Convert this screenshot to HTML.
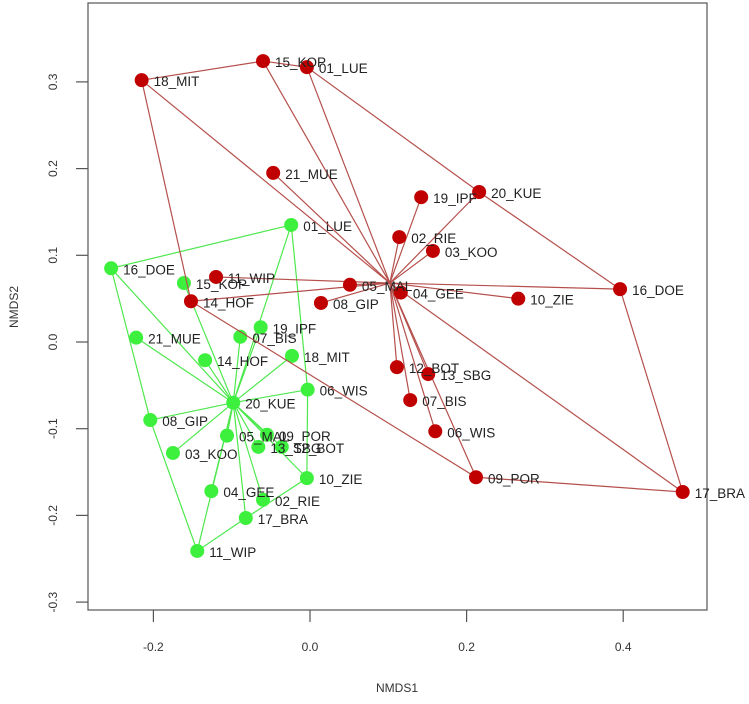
<!DOCTYPE html>
<html><head><meta charset="utf-8"><style>
html,body{margin:0;padding:0;background:#fff;}
svg{display:block;font-family:"Liberation Sans",sans-serif;}
</style></head><body>
<svg id="chart" width="749" height="704" xmlns="http://www.w3.org/2000/svg">
<rect x="88" y="3" width="619" height="607" fill="none" stroke="#555" stroke-width="1.2"/>
<text x="397" y="692" font-size="12" fill="#333" text-anchor="middle">NMDS1</text>
<text transform="translate(18,307) rotate(-90)" font-size="12" fill="#333" text-anchor="middle">NMDS2</text>
<g id="axes"></g>
<g id="green"></g>
<g id="red"></g>
</svg>
<script>
const xTicks=[-0.2,0.0,0.2,0.4];
const xTickLabels=["-0.2","0.0","0.2","0.4"];
const yTicks=[0.3,0.2,0.1,0.0,-0.1,-0.2,-0.3];
const yTickLabels=["0.3","0.2","0.1","0.0","-0.1","-0.2","-0.3"];

const greenNames=["01_LUE","16_DOE","15_KOP","21_MUE","07_BIS","19_IPF","14_HOF","18_MIT","06_WIS","20_KUE","08_GIP","05_MAL","09_POR","13_SBG","12_BOT","03_KOO","10_ZIE","04_GEE","02_RIE","17_BRA","11_WIP"];
const greenX=[-0.024,-0.254,-0.161,-0.222,-0.089,-0.063,-0.134,-0.023,-0.003,-0.098,-0.204,-0.106,-0.055,-0.066,-0.036,-0.175,-0.004,-0.126,-0.060,-0.082,-0.144];
const greenY=[0.135,0.085,0.068,0.005,0.006,0.017,-0.021,-0.016,-0.055,-0.070,-0.090,-0.108,-0.107,-0.121,-0.121,-0.128,-0.157,-0.172,-0.182,-0.203,-0.241];
const greenCentroid=[-0.098,-0.070];
const greenHull=["01_LUE","16_DOE","08_GIP","11_WIP","17_BRA","10_ZIE","06_WIS"];

const redNames=["18_MIT","15_KOP","01_LUE","21_MUE","19_IPF","20_KUE","02_RIE","11_WIP","03_KOO","05_MAL","16_DOE","14_HOF","04_GEE","08_GIP","10_ZIE","12_BOT","13_SBG","07_BIS","06_WIS","09_POR","17_BRA"];
const redX=[-0.215,-0.060,-0.004,-0.047,0.142,0.216,0.114,-0.120,0.157,0.051,0.396,-0.152,0.116,0.014,0.266,0.111,0.151,0.128,0.160,0.212,0.476];
const redY=[0.302,0.324,0.317,0.195,0.167,0.173,0.121,0.075,0.105,0.066,0.061,0.047,0.057,0.045,0.050,-0.029,-0.037,-0.067,-0.103,-0.156,-0.173];
const redCentroid=[0.102,0.068];
const redHull=["18_MIT","15_KOP","01_LUE","20_KUE","16_DOE","17_BRA","09_POR","14_HOF"];

const NS="http://www.w3.org/2000/svg";
function sx(v){return 310+v*783;}
function sy(v){return 342-v*867;}
function mk(tag,attrs,parent){const e=document.createElementNS(NS,tag);for(const k in attrs)e.setAttribute(k,attrs[k]);parent.appendChild(e);return e;}

const axes=document.getElementById('axes');
xTicks.forEach((t,i)=>{
  const l=mk('line',{x1:sx(t),x2:sx(t),y1:610,y2:622,stroke:'#555','stroke-width':1.2},axes);
  
  
  const tx=mk('text',{x:sx(t),y:651,'font-size':12,fill:'#333','text-anchor':'middle'},axes);
  tx.textContent=xTickLabels[i];
  
  
});
yTicks.forEach((t,i)=>{
  const l=mk('line',{x1:76,x2:88,y1:sy(t),y2:sy(t),stroke:'#555','stroke-width':1.2},axes);
  
  
  const tx=mk('text',{transform:`translate(57,${sy(t)}) rotate(-90)`,'font-size':12,fill:'#333','text-anchor':'middle'},axes);
  tx.textContent=yTickLabels[i];
  
  
});

function drawGroup(gid,names,xs,ys,cen,hull,ptColor,lineColor,grp){
  const g=document.getElementById(gid);
  names.forEach((n,i)=>{
    const l=mk('line',{x1:sx(cen[0]),y1:sy(cen[1]),x2:sx(xs[i]),y2:sy(ys[i]),stroke:lineColor,'stroke-width':1.2},g);
    
    
  });
  const pts=hull.map(h=>{const i=names.indexOf(h);return sx(xs[i])+','+sy(ys[i]);}).join(' ');
  const p=mk('polygon',{points:pts,fill:'none',stroke:lineColor,'stroke-width':1.2},g);
  
  
  names.forEach((n,i)=>{
    const c=mk('circle',{cx:sx(xs[i]),cy:sy(ys[i]),r:7,fill:ptColor},g);
    
    
  });
  names.forEach((n,i)=>{
    const t=mk('text',{x:sx(xs[i])+12,y:sy(ys[i])+6,'font-size':13.5,fill:'#222'},g);
    t.textContent=n;
    
    
  });
}
drawGroup('green',greenNames,greenX,greenY,greenCentroid,greenHull,'#3ef03e','#4ee84e','green');
drawGroup('red',redNames,redX,redY,redCentroid,redHull,'#c00000','#b5504c','red');
</script>
</body></html>
